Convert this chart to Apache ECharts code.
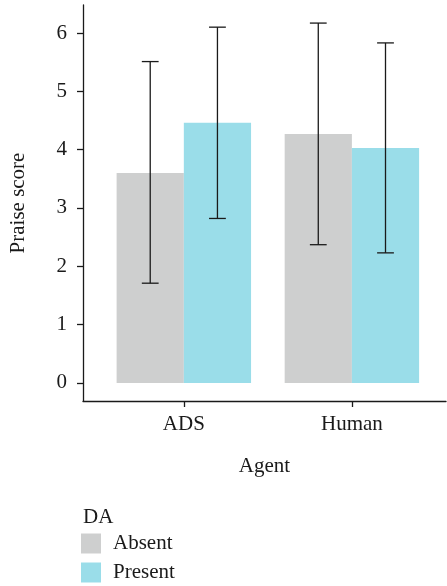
<!DOCTYPE html>
<html>
<head>
<meta charset="utf-8">
<style>
  html, body { margin: 0; padding: 0; background: #ffffff; }
  #chart { width: 447px; height: 586px; }
</style>
<script src="https://cdn.jsdelivr.net/npm/echarts@6/dist/echarts.min.js"></script>
</head>
<body>
<div id="chart"></div>
<script>
// ---- data ----
const categories = ['ADS', 'Human'];
const groups = ['Absent', 'Present'];
const absentMean = [3.60, 4.27];
const absentLow = [1.71, 2.37];
const absentHigh = [5.51, 6.17];
const presentMean = [4.46, 4.03];
const presentLow = [2.82, 2.23];
const presentHigh = [6.10, 5.83];
const yTicks = [0, 1, 2, 3, 4, 5, 6];
const xTicks = [1, 2];

const FONT = 'Liberation Serif';
const FS = 21;
const groupColors = ['#cecfcf', '#9adde9'];
const barHalf = 0.2;   // half bar width in x-units
const capHalf = 0.05;

function makeData(mean, low, high) {
  return categories.map((c, i) => [i + 1, mean[i], low[i], high[i]]);
}

function makeRender(offset, color) {
  return function (params, api) {
    const xc = api.value(0) + offset;
    const m = api.value(1), lo = api.value(2), hi = api.value(3);
    const p0 = api.coord([xc - barHalf, m]);
    const p1 = api.coord([xc + barHalf, 0]);
    const top = api.coord([xc, hi]);
    const bot = api.coord([xc, lo]);
    const capL = api.coord([xc - capHalf, hi]);
    const capR = api.coord([xc + capHalf, hi]);
    const capL2 = api.coord([xc - capHalf, lo]);
    const capR2 = api.coord([xc + capHalf, lo]);
    const lineStyle = { stroke: '#1a1a1a', lineWidth: 1.3, fill: null };
    return {
      type: 'group',
      children: [
        { type: 'rect', shape: { x: p0[0], y: p0[1], width: p1[0] - p0[0], height: p1[1] - p0[1] }, style: { fill: color } },
        { type: 'line', shape: { x1: top[0], y1: top[1], x2: bot[0], y2: bot[1] }, style: lineStyle },
        { type: 'line', shape: { x1: capL[0], y1: capL[1], x2: capR[0], y2: capR[1] }, style: lineStyle },
        { type: 'line', shape: { x1: capL2[0], y1: capL2[1], x2: capR2[0], y2: capR2[1] }, style: lineStyle }
      ]
    };
  };
}

const chart = echarts.init(document.getElementById('chart'), null, { renderer: 'canvas' });
chart.setOption({
  animation: false,
  backgroundColor: '#ffffff',
  textStyle: { fontFamily: FONT },
  title: {
    text: 'DA',
    left: 78,
    top: 502,
    textStyle: { fontFamily: FONT, fontSize: FS, fontWeight: 'normal', color: '#1a1a1a' }
  },
  legend: {
    orient: 'vertical',
    left: 81,
    top: 533,
    padding: 0,
    itemWidth: 20,
    itemHeight: 20,
    itemGap: 8,
    icon: 'rect',
    data: groups,
    textStyle: { fontFamily: FONT, fontSize: FS, color: '#1a1a1a', padding: [0, 0, 0, 7] }
  },
  grid: { left: 81, right: 1, top: 5, bottom: 185, containLabel: false },
  xAxis: {
    type: 'value',
    min: 0.4,
    max: 2.56,
    name: 'Agent',
    nameLocation: 'middle',
    nameGap: 55,
    nameTextStyle: { fontFamily: FONT, fontSize: FS, color: '#1a1a1a' },
    axisLine: { show: true, onZero: false, lineStyle: { color: '#1a1a1a', width: 1.3 } },
    axisTick: { show: true, customValues: xTicks, length: 6, lineStyle: { color: '#1a1a1a', width: 1.3 } },
    axisLabel: {
      customValues: xTicks,
      margin: 13,
      fontFamily: FONT, fontSize: FS, color: '#1a1a1a',
      formatter: v => categories[Math.round(v) - 1] || ''
    },
    splitLine: { show: false }
  },
  yAxis: {
    type: 'value',
    min: -0.31,
    max: 6.48,
    name: 'Praise score',
    nameLocation: 'middle',
    nameGap: 54,
    nameTextStyle: { fontFamily: FONT, fontSize: FS, color: '#1a1a1a' },
    axisLine: { show: true, onZero: false, lineStyle: { color: '#1a1a1a', width: 1.3 } },
    axisTick: { show: true, customValues: yTicks, length: 6, lineStyle: { color: '#1a1a1a', width: 1.3 } },
    axisLabel: { customValues: yTicks, margin: 16, fontFamily: FONT, fontSize: FS, color: '#1a1a1a' },
    splitLine: { show: false }
  },
  series: [
    {
      name: groups[0],
      type: 'custom',
      itemStyle: { color: groupColors[0] },
      renderItem: makeRender(-barHalf, groupColors[0]),
      encode: { x: 0, y: [1, 2, 3] },
      data: makeData(absentMean, absentLow, absentHigh)
    },
    {
      name: groups[1],
      type: 'custom',
      itemStyle: { color: groupColors[1] },
      renderItem: makeRender(barHalf, groupColors[1]),
      encode: { x: 0, y: [1, 2, 3] },
      data: makeData(presentMean, presentLow, presentHigh)
    }
  ]
});
</script>
</body>
</html>
